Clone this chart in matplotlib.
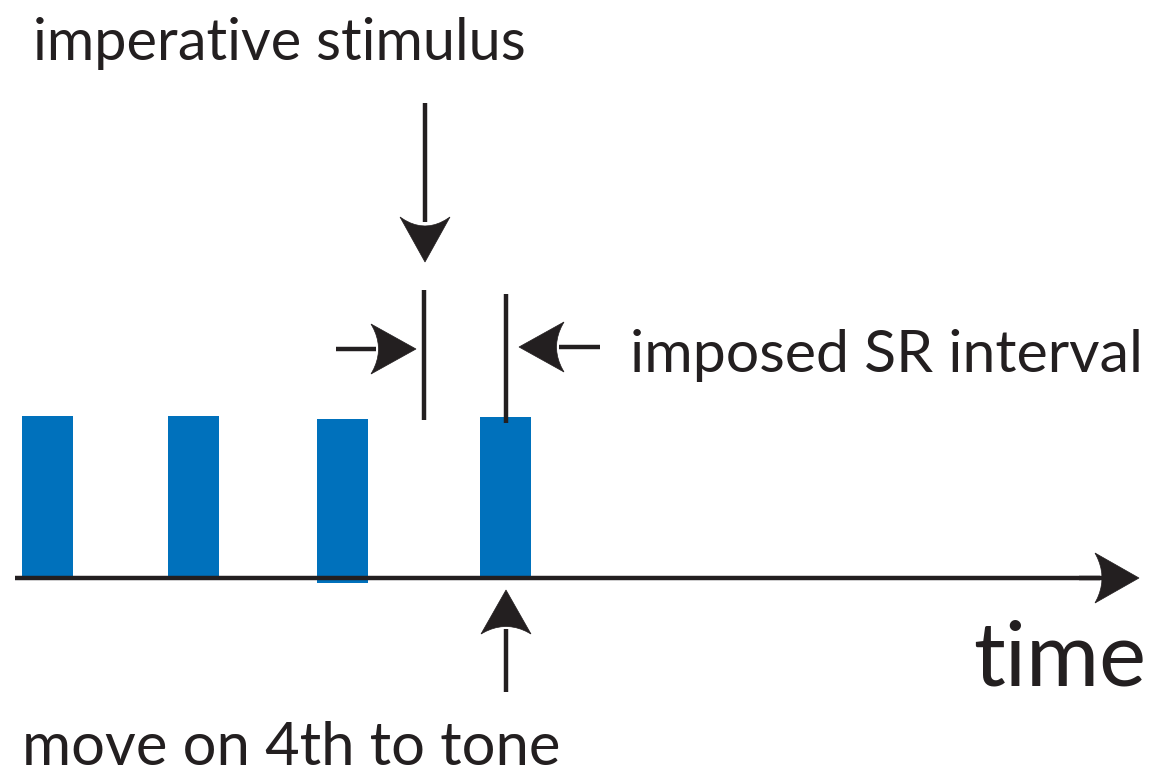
import matplotlib
matplotlib.use("Agg")
import matplotlib.pyplot as plt
from matplotlib.patches import Polygon
import numpy as np

# ---- data (pixel-like coordinates of the schematic) ----
tone_times = [47, 193, 342, 505]          # centre of each tone bar
tone_tops = [416, 416, 419, 417]          # top edge of each bar
tone_bottoms = [578, 578, 583, 580]       # bottom edge of each bar
tone_width = 51

axis_y = 578
axis_x0, axis_x1 = 15, 1139

stim_x = 425                 # imperative stimulus time
resp_x = 506                 # response (4th tone) time

labels = {
    "stim": "imperative stimulus",
    "sr": "imposed SR interval",
    "time": "time",
    "move": "move on 4th to tone",
}

BLUE = "#0071BC"
INK = "#231F20"

fig = plt.figure(figsize=(11.56, 7.74), dpi=100)
ax = fig.add_axes([0, 0, 1, 1])
ax.set_xlim(0, 1156)
ax.set_ylim(774, 0)
ax.axis("off")

# tone bars
heights = [b - t for t, b in zip(tone_tops, tone_bottoms)]
ax.bar(tone_times, heights, bottom=tone_tops, width=tone_width, color=BLUE, zorder=2)

LW = 3.2


def arrow(x0, y0, x1, y1, L=45, W=25, notch=12):
    """Shaft from (x0,y0) to tip (x1,y1) with barbed head."""
    d = np.array([x1 - x0, y1 - y0], float)
    d /= np.hypot(*d)
    n = np.array([-d[1], d[0]])
    tip = np.array([x1, y1], float)
    back = tip - d * L
    c1 = back + n * W
    c2 = back - n * W
    ctrl = back + d * notch
    pts = [tip, c1]
    for t in np.linspace(0.1, 0.9, 9):
        p = (1 - t) ** 2 * c1 + 2 * (1 - t) * t * ctrl + t ** 2 * c2
        pts.append(p)
    pts.append(c2)
    ax.add_patch(Polygon(pts, closed=True, facecolor=INK, edgecolor=INK, lw=0.5, zorder=4))
    shaft_end = tip - d * (L - 5)
    ax.plot([x0, shaft_end[0]], [y0, shaft_end[1]], color=INK, lw=LW,
            solid_capstyle="butt", zorder=3)


# time axis
ax.plot([axis_x0, axis_x1 - 30], [axis_y, axis_y], color=INK, lw=LW,
        solid_capstyle="butt", zorder=3)
arrow(axis_x1 - 60, axis_y, axis_x1, axis_y, L=44, W=25, notch=14)

# imperative stimulus arrow
arrow(stim_x, 103, stim_x, 262, L=45, W=25, notch=18)

# interval markers
ax.plot([stim_x - 1, stim_x - 1], [290, 420], color=INK, lw=LW, solid_capstyle="butt", zorder=3)
ax.plot([resp_x, resp_x], [294, 423], color=INK, lw=LW, solid_capstyle="butt", zorder=3)
arrow(336, 349, 416, 349, L=45, W=25, notch=15)
arrow(600, 347, 519, 347, L=45, W=25, notch=15)

# movement arrow
arrow(resp_x, 692, resp_x, 590, L=44, W=25, notch=15)

FONT = ["Lato", "DejaVu Sans"]
ax.text(33, 60, labels["stim"], fontsize=41.5, color=INK, family=FONT, va="baseline", ha="left")
ax.text(630, 372, labels["sr"], fontsize=42.5, color=INK, family=FONT, va="baseline", ha="left")
ax.text(1146, 685, labels["time"], fontsize=64, color=INK, family=FONT, va="baseline", ha="right")
ax.text(22, 765, labels["move"], fontsize=43, color=INK, family=FONT, va="baseline", ha="left")

fig.savefig("out.png", dpi=100)
